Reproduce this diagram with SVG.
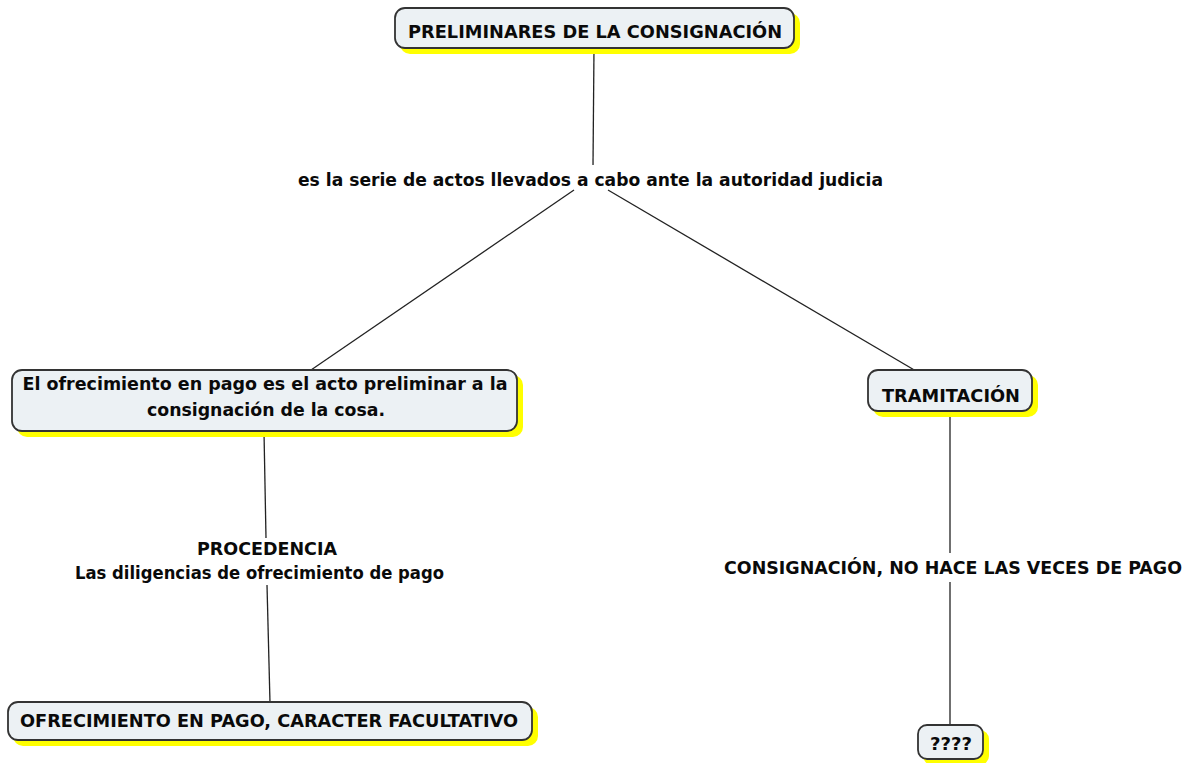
<svg xmlns="http://www.w3.org/2000/svg" width="1188" height="763" viewBox="0 0 1188 763">
<defs>
<style>
.sh{fill:#ffff00;}
.bx{fill:#ecf1f4;stroke:#333;stroke-width:1.8;}
.t{font-family:"DejaVu Sans","Liberation Sans",sans-serif;font-weight:bold;font-size:17.5px;fill:#0a0a0a;text-anchor:middle;}
.c{stroke:#222;stroke-width:1.3;fill:none;}
</style>
</defs>
<rect width="1188" height="763" fill="#fff"/>
<g id="connectors">
<line class="c" x1="594" y1="48" x2="593" y2="165"/>
<line class="c" x1="574" y1="190" x2="311" y2="370"/>
<line class="c" x1="608" y1="190" x2="916" y2="371"/>
<line class="c" x1="264" y1="432" x2="266" y2="538"/>
<line class="c" x1="267" y1="585" x2="270" y2="703"/>
<line class="c" x1="950" y1="412" x2="950" y2="553"/>
<line class="c" x1="950" y1="582" x2="950" y2="726"/>
</g>
<g id="n1">
<rect class="sh" x="400" y="13" width="400" height="41" rx="10"/>
<rect class="bx" x="395" y="8" width="399" height="40" rx="10"/>
<text class="t" x="595" y="37.5" textLength="374" lengthAdjust="spacingAndGlyphs">PRELIMINARES DE LA CONSIGNACIÓN</text>
</g>
<g id="l1">
<text class="t" x="590.5" y="186" textLength="585" lengthAdjust="spacingAndGlyphs">es la serie de actos llevados a cabo ante la autoridad judicia</text>
</g>
<g id="n2">
<rect class="sh" x="17" y="375" width="506" height="62" rx="10"/>
<rect class="bx" x="12" y="370" width="505" height="61" rx="10"/>
<text class="t" x="265" y="389.5" textLength="485" lengthAdjust="spacingAndGlyphs">El ofrecimiento en pago es el acto preliminar a la</text>
<text class="t" x="266" y="416" textLength="238" lengthAdjust="spacingAndGlyphs">consignación de la cosa.</text>
</g>
<g id="n3">
<rect class="sh" x="873" y="375" width="165" height="42" rx="10"/>
<rect class="bx" x="868" y="370" width="164" height="41" rx="10"/>
<text class="t" x="951" y="401.5" textLength="138" lengthAdjust="spacingAndGlyphs">TRAMITACIÓN</text>
</g>
<g id="l2">
<text class="t" x="267" y="554.5" textLength="140" lengthAdjust="spacingAndGlyphs">PROCEDENCIA</text>
<text class="t" x="259.5" y="578.5" textLength="369" lengthAdjust="spacingAndGlyphs">Las diligencias de ofrecimiento de pago</text>
</g>
<g id="l3">
<text class="t" x="953" y="573.5" textLength="458" lengthAdjust="spacingAndGlyphs">CONSIGNACIÓN, NO HACE LAS VECES DE PAGO</text>
</g>
<g id="n4">
<rect class="sh" x="13" y="707" width="525" height="39" rx="10"/>
<rect class="bx" x="8" y="702" width="524" height="38" rx="10"/>
<text class="t" x="269" y="726.5" textLength="498" lengthAdjust="spacingAndGlyphs">OFRECIMIENTO EN PAGO, CARACTER FACULTATIVO</text>
</g>
<g id="n5">
<rect class="sh" x="923" y="730" width="66" height="35" rx="9"/>
<rect class="bx" x="918" y="725" width="65" height="34" rx="9"/>
<text class="t" x="951" y="750" textLength="42" lengthAdjust="spacingAndGlyphs">????</text>
</g>
</svg>
